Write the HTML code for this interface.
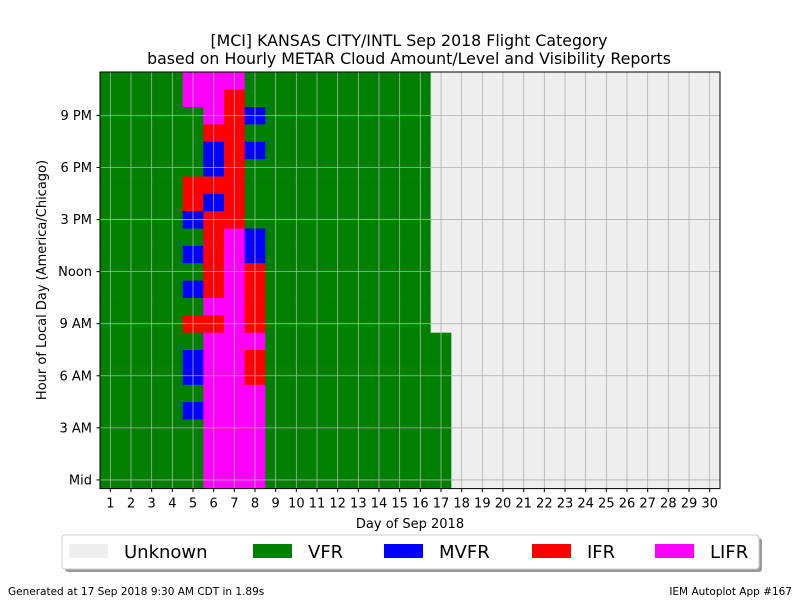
<!DOCTYPE html>
<html><head><meta charset="utf-8"><style>
body{margin:0;background:#fff;}
svg{display:block;font-family:"DejaVu Sans","Liberation Sans",sans-serif;}
</style></head><body>
<svg id="chart" width="800" height="600" xmlns="http://www.w3.org/2000/svg">
<text x="409" y="46" font-size="15.8" text-anchor="middle">[MCI] KANSAS CITY/INTL Sep 2018 Flight Category</text>
<text x="409" y="64" font-size="15.8" text-anchor="middle">based on Hourly METAR Cloud Amount/Level and Visibility Reports</text>
<g id="cells"></g>
<g id="grid"></g>
<rect x="100" y="72" width="620" height="416.6" fill="none" stroke="#000" stroke-width="1"/>
<g id="xaxis"></g>
<g id="yaxis"></g>
<text x="410" y="528" font-size="13" text-anchor="middle">Day of Sep 2018</text>
<text transform="translate(46,280) rotate(-90)" font-size="13" text-anchor="middle">Hour of Local Day (America/Chicago)</text>
<g>
<rect x="65" y="538" width="697" height="34" rx="3" fill="#999"/>
<rect x="62" y="535" width="697" height="34" rx="3" fill="#fff" stroke="#ccc"/>
<g id="legend"></g>
</g>
<text x="8" y="595" font-size="10.5">Generated at 17 Sep 2018 9:30 AM CDT in 1.89s</text>
<text x="792" y="595" font-size="10.5" text-anchor="end">IEM Autoplot App #167</text>
</svg>
<script>
// codes per hour 0..23: 0 Unknown, 1 VFR, 2 MVFR, 3 IFR, 4 LIFR
const days = [1,2,3,4,5,6,7,8,9,10,11,12,13,14,15,16,17,18,19,20,21,22,23,24,25,26,27,28,29,30];
const dayCodes = [
"111111111111111111111111",
"111111111111111111111111",
"111111111111111111111111",
"111111111111111111111111",
"111121221312121233111144",
"444444444343333323223444",
"444444444444444333333334",
"444444334333322111121211",
"111111111111111111111111",
"111111111111111111111111",
"111111111111111111111111",
"111111111111111111111111",
"111111111111111111111111",
"111111111111111111111111",
"111111111111111111111111",
"111111111111111111111111",
"111111111000000000000000",
"000000000000000000000000","000000000000000000000000","000000000000000000000000",
"000000000000000000000000","000000000000000000000000","000000000000000000000000",
"000000000000000000000000","000000000000000000000000","000000000000000000000000",
"000000000000000000000000","000000000000000000000000","000000000000000000000000",
"000000000000000000000000"
];
const categories = ["Unknown","VFR","MVFR","IFR","LIFR"];
const colors = ["#eeeeee","#008000","#0000ff","#ff0000","#ff00ff"];
const yTickHours = [0,3,6,9,12,15,18,21];
const yTickLabels = ["Mid","3 AM","6 AM","9 AM","Noon","3 PM","6 PM","9 PM"];

const NS="http://www.w3.org/2000/svg";
const X0=100,X1=720,YB=488.6,YT=72;
const cw=(X1-X0)/days.length, ch=(YB-YT)/24;
const xs=d=>X0+(d-days[0]+0.5)*cw;
const ys=h=>YB-(h+0.5)*ch;
function mk(tag,attrs,parent){const e=document.createElementNS(NS,tag);for(const k in attrs)e.setAttribute(k,attrs[k]);parent.appendChild(e);return e;}
const cells=document.getElementById('cells');
days.forEach((d,i)=>{
  for(let h=0;h<24;h++){
    const c=+dayCodes[i][h];
    const r=mk('rect',{x:xs(d)-cw/2,y:ys(h)-ch/2,width:cw+0.3,height:ch+0.3,fill:colors[c]},cells);
    
    
  }
});
const grid=document.getElementById('grid'),xa=document.getElementById('xaxis'),ya=document.getElementById('yaxis');
days.forEach(d=>{
  const x=xs(d);
  const l=mk('line',{x1:x,x2:x,y1:YT,y2:YB,stroke:'#b0b0b0','stroke-width':0.8},grid);
  
  
  mk('line',{x1:x,x2:x,y1:YB,y2:YB+3.5,stroke:'#000'},xa);
  const t=mk('text',{x:x,y:YB+19,'font-size':13,'text-anchor':'middle'},xa);
  t.textContent=d;
  
  
});
yTickHours.forEach((h,i)=>{
  const y=ys(h);
  const l=mk('line',{x1:X0,x2:X1,y1:y,y2:y,stroke:'#b0b0b0','stroke-width':0.8},grid);
  
  
  mk('line',{x1:X0-3.5,x2:X0,y1:y,y2:y,stroke:'#000'},ya);
  const t=mk('text',{x:X0-8,y:y+4.5,'font-size':13,'text-anchor':'end'},ya);
  t.textContent=yTickLabels[i];
  
  
});
const lg=document.getElementById('legend');
const lx=[69,253,384,532,655];
categories.forEach((c,i)=>{
  const g=mk('g',{},lg);
  
  
  mk('rect',{x:lx[i],y:544,width:39,height:14,fill:colors[i]},g);
  const t=mk('text',{x:lx[i]+55,y:558,'font-size':18},g);
  t.textContent=c;
});
</script>
</body></html>
